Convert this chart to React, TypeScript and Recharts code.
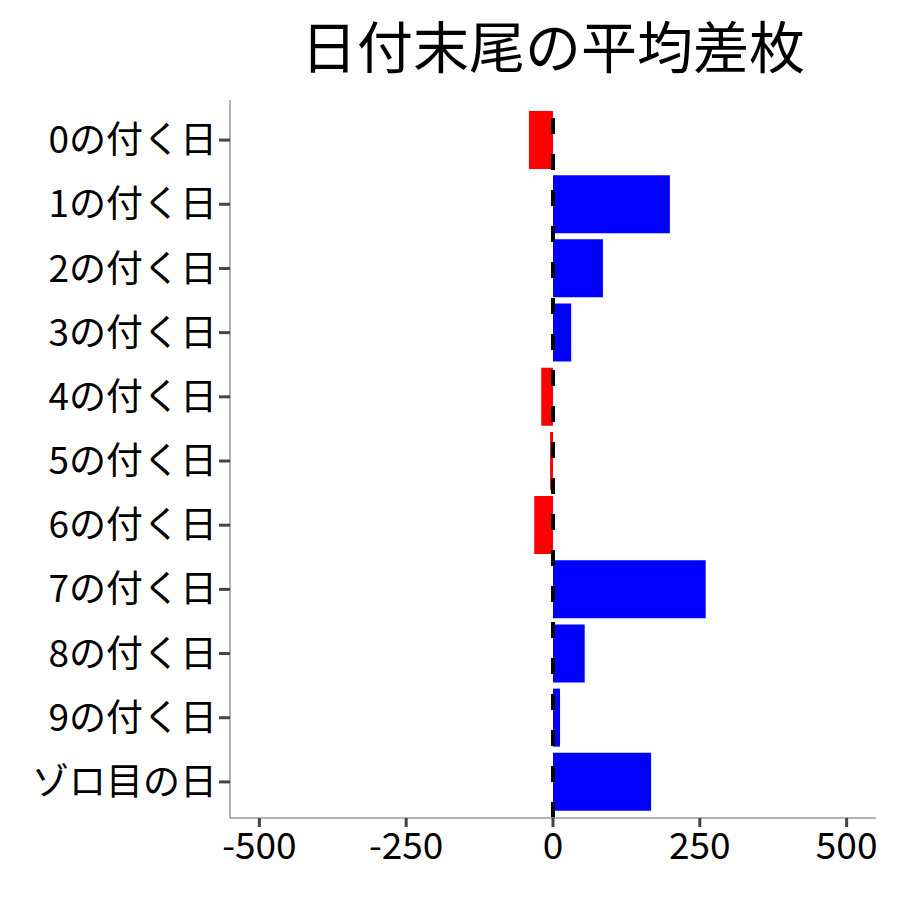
import { BarChart, Bar, XAxis, YAxis, ReferenceLine, Cell } from 'recharts';

const categories = [
  '0の付く日',
  '1の付く日',
  '2の付く日',
  '3の付く日',
  '4の付く日',
  '5の付く日',
  '6の付く日',
  '7の付く日',
  '8の付く日',
  '9の付く日',
  'ゾロ目の日',
];
const avgDiff = [-41, 199, 85, 31, -20, -5, -32, 260, 54, 12, 167];
const xTicks = [-500, -250, 0, 250, 500];

const chartData = categories.map((name, i) => ({ name, value: avgDiff[i] }));

const FONT = '"Noto Sans CJK JP", "Noto Sans", sans-serif';

export default function App() {
  return (
    <div
      style={{
        position: 'absolute',
        left: 0,
        top: 0,
        width: 900,
        height: 900,
        background: '#fff',
        fontFamily: FONT,
      }}
    >
      <div
        style={{
          position: 'absolute',
          left: 230,
          width: 646,
          top: 6,
          textAlign: 'center',
          fontSize: 56,
          lineHeight: '76px',
          color: '#000',
        }}
      >
        日付末尾の平均差枚
      </div>
      <BarChart
        width={900}
        height={900}
        data={chartData}
        layout="vertical"
        margin={{ top: 100, right: 24, bottom: 0, left: 0 }}
        barSize={58}
      >
        <XAxis
          type="number"
          domain={[-550, 550]}
          ticks={xTicks}
          allowDataOverflow
          height={82}
          axisLine={{ stroke: '#999', strokeWidth: 1.5 }}
          tickLine={{ stroke: '#444', strokeWidth: 3 }}
          tickSize={9}
          tick={{ fill: '#000', fontSize: 37, fontFamily: FONT, dy: 4 }}
        />
        <YAxis
          type="category"
          dataKey="name"
          width={230}
          padding={{ top: 8, bottom: 4 }}
          axisLine={{ stroke: '#999', strokeWidth: 1.5 }}
          tickLine={{ stroke: '#444', strokeWidth: 3 }}
          tickSize={11}
          tick={{ fill: '#000', fontSize: 37, fontFamily: FONT }}
          interval={0}
        />
        <Bar dataKey="value" isAnimationActive={false}>
          {chartData.map((d) => (
            <Cell key={d.name} fill={d.value < 0 ? '#ff0000' : '#0000ff'} />
          ))}
        </Bar>
        <ReferenceLine x={0} stroke="#000" strokeWidth={4} strokeDasharray="16 20" />
      </BarChart>
    </div>
  );
}
